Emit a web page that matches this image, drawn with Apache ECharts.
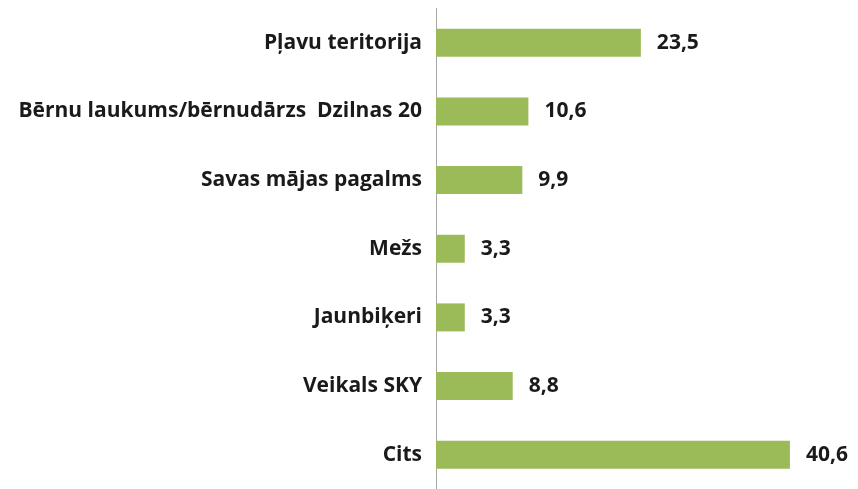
<!DOCTYPE html>
<html><head><meta charset="utf-8">
<script src="https://cdn.jsdelivr.net/npm/echarts@6/dist/echarts.min.js"></script>
<style>html,body{margin:0;padding:0;background:#fff}#c{width:858px;height:489px}</style>
</head><body><div id="c"></div>
<script>
const categories = ["Pļavu teritorija","Bērnu laukums/bērnudārzs  Dzilnas 20","Savas mājas pagalms","Mežs","Jaunbiķeri","Veikals SKY","Cits"];
const values = [23.5, 10.6, 9.9, 3.3, 3.3, 8.8, 40.6];
const chart = echarts.init(document.getElementById('c'));
const font = 'Open Sans';
chart.setOption({
  animation: false,
  grid: {left: 436, top: 8.5, width: 392.3, height: 483.5, containLabel: false},
  xAxis: {type: 'value', min: 0, max: 45, show: false},
  yAxis: {
    type: 'category', data: categories, inverse: true,
    axisLine: {show: true, lineStyle: {color: '#a6a6a6', width: 1}},
    axisTick: {show: false},
    axisLabel: {margin: 14, color: '#1a1a1a', fontWeight: 'bold', fontSize: 21, fontFamily: font}
  },
  series: [{
    type: 'bar', data: values, barWidth: 28,
    itemStyle: {color: '#9BBB59'},
    label: {show: true, position: 'right', distance: 16, color: '#1a1a1a', fontWeight: 'bold', fontSize: 21, fontFamily: font,
      formatter: p => String(p.value).replace('.', ',')}
  }]
});
</script></body></html>
